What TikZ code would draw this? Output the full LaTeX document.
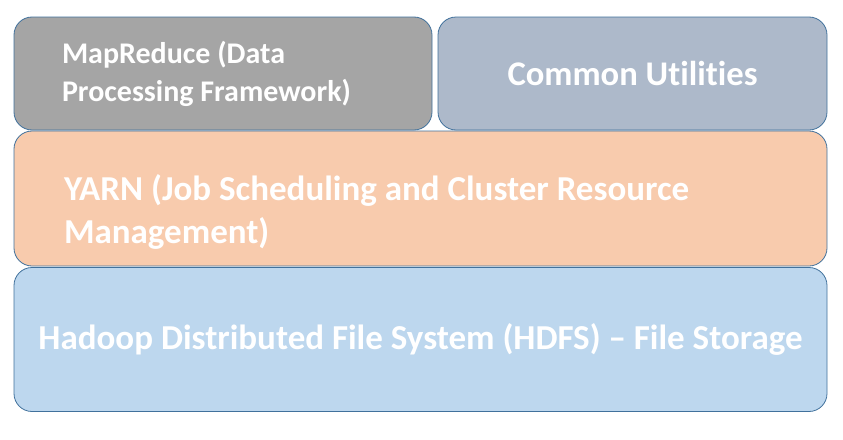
\documentclass[tikz,border=0pt]{standalone}
\usepackage{fontspec}
\setmainfont{Carlito}[Ligatures=NoCommon]
\definecolor{mapgray}{HTML}{A5A5A5}
\definecolor{utilblue}{HTML}{ADB9CA}
\definecolor{yarnpeach}{HTML}{F8CBAD}
\definecolor{hdfsblue}{HTML}{BDD7EE}
\definecolor{layeredge}{HTML}{41719C}
\tikzset{layer/.style={draw=layeredge, line width=0.8pt, rounded corners=18pt, text=white,
	inner ysep=0pt, font=\bfseries\fontsize{35}{43}\selectfont}}
\begin{document}
\begin{tikzpicture}[x=1pt,y=-1pt]
			\useasboundingbox (0,0) rectangle (843,439);
			% top row
			\node[layer, fill=mapgray, minimum width=418pt, minimum height=113pt, inner xsep=48pt,
			text width=322pt, align=flush left, font=\bfseries\fontsize{30}{38}\selectfont] (mapred) at (223,73.5)
			{MapReduce (Data\\Processing Framework)};
			\node[layer, fill=utilblue, minimum width=389pt, minimum height=113pt,
			font=\bfseries\fontsize{34.6}{43}\selectfont] (util) at (632.5,73.5)
			{Common Utilities};
			% middle and bottom layers
			\node[layer, fill=yarnpeach, minimum width=813pt, minimum height=135pt, inner xsep=50pt,
			text width=713pt, align=flush left] (yarn) at (420.5,198.5)
			{\rule{0pt}{52pt}YARN (Job Scheduling and Cluster Resource\\Management)};
			\node[layer, fill=hdfsblue, minimum width=813pt, minimum height=144pt] (hdfs) at (420.5,339.5)
			{Hadoop Distributed File System (HDFS) -- File Storage};
		\end{tikzpicture}
\end{document}
